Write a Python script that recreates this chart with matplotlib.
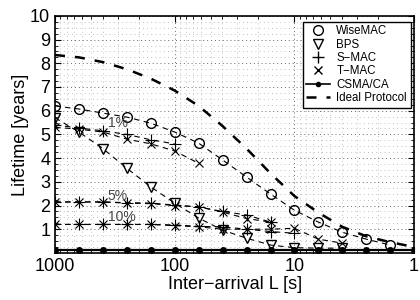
import matplotlib
matplotlib.use('Agg')
import matplotlib.pyplot as plt
from matplotlib.ticker import MultipleLocator, LogLocator, FixedLocator
from matplotlib.lines import Line2D

plt.rcParams['font.family'] = ['Liberation Sans', 'DejaVu Sans']

# inter-arrival times (x positions of the markers)
L = [1000, 631, 398, 251, 158, 100, 63.1, 39.8, 25.1, 15.8, 10, 6.31, 3.98, 2.51, 1.58, 1]

wisemac = [6.2, 6.07, 5.9, 5.73, 5.47, 5.1, 4.63, 3.92, 3.2, 2.48, 1.8, 1.3, 0.87, 0.58, 0.33]
bps = [5.7, 5.1, 4.4, 3.57, 2.78, 2.1, 1.47, 0.96, 0.62, 0.33, 0.22, 0.2, 0.2]
smac_1 = [5.4, 5.27, 5.15, 5.0, 4.77, 4.6]
tmac_1 = [5.3, 5.22, 5.1, 4.8, 4.6, 4.3, 3.78]
smac_5 = [2.15, 2.15, 2.15, 2.12, 2.1, 2.02, 1.93, 1.75, 1.6, 1.3]
tmac_5 = [2.15, 2.15, 2.15, 2.1, 2.08, 2.0, 1.95, 1.72, 1.45, 1.3]
smac_10 = [1.2, 1.2, 1.2, 1.2, 1.2, 1.18, 1.12, 1.1, 1.0, 0.9, 0.83]
tmac_10 = [1.2, 1.2, 1.2, 1.2, 1.2, 1.15, 1.1, 1.0, 1.0, 1.0, 1.04, 0.58, 0.41]
csma = [0.12] * 16
ideal = [8.35, 8.25, 8.05, 7.75, 7.35, 6.85, 6.2, 5.35, 4.4, 3.35, 2.4, 1.7, 1.1, 0.7, 0.45, 0.25]

fig = plt.figure(figsize=(4.2, 3.0), dpi=100)
ax = fig.add_axes([0.131, 0.157, 0.855, 0.79])

dash = (0, (5, 4))
mk = dict(color='k', lw=0.8, ls=dash, mfc='none', mec='k')
ax.plot(L[:len(wisemac)], wisemac, marker='o', ms=7, **mk)
ax.plot(L[:len(bps)], bps, marker='v', ms=7, **mk)
for s in (smac_1, smac_5, smac_10):
    ax.plot(L[:len(s)], s, marker='+', ms=8, mew=0.8, **mk)
for s in (tmac_1, tmac_5, tmac_10):
    ax.plot(L[:len(s)], s, marker='x', ms=6, mew=0.8, **mk)
ax.plot(L, csma, color='k', lw=1.6, marker='o', ms=4)
ax.plot(L, ideal, color='k', lw=1.8, ls=(0, (4, 4)))

for txt, x, y in [('1%', 298, 5.5), ('5%', 298, 2.4), ('10%', 277, 1.5)]:
    ax.text(x, y, txt, color='#444444', fontsize=10, ha='center', va='center')

ax.set_xscale('log')
ax.set_xlim(1000, 1)
ax.set_ylim(0, 10)
ax.xaxis.set_major_locator(FixedLocator([1000, 100, 10, 1]))
ax.set_xticklabels(['1000', '100', '10', '1'])
ax.xaxis.set_minor_locator(LogLocator(base=10, subs=range(2, 10)))
ax.yaxis.set_major_locator(FixedLocator(range(1, 11)))
ax.yaxis.set_minor_locator(MultipleLocator(0.25))
ax.tick_params(which='both', direction='in', top=True, right=True, labelsize=13)
ax.tick_params(which='major', length=4)
ax.tick_params(which='minor', length=2)
ax.grid(which='major', color='#666666', ls=(0, (1, 3)), lw=0.7)
ax.grid(which='minor', color='#aaaaaa', ls=(0, (1, 4)), lw=0.6)
for sp in ax.spines.values():
    sp.set_linewidth(1.2)

ax.set_xlabel('Inter\u2212arrival L [s]', fontsize=13, labelpad=1)
ax.set_ylabel('Lifetime [years]', fontsize=13, labelpad=1)

handles = [
    Line2D([], [], ls='none', marker='o', mfc='none', mec='k', color='k', ms=7),
    Line2D([], [], ls='none', marker='v', mfc='none', mec='k', color='k', ms=7),
    Line2D([], [], ls='none', marker='+', color='k', ms=8),
    Line2D([], [], ls='none', marker='x', color='k', ms=6),
    Line2D([], [], color='k', lw=1.2, marker='o', ms=3),
    Line2D([], [], color='k', lw=1.8, ls=(0, (4, 4))),
]
labels = ['WiseMAC', 'BPS', 'S\u2212MAC', 'T\u2212MAC', 'CSMA/CA', 'Ideal Protocol']
leg = ax.legend(handles, labels, loc='upper right', bbox_to_anchor=(0.99, 0.975),
                fontsize=8.3, fancybox=False, framealpha=1, edgecolor='k',
                borderpad=0.3, labelspacing=0.12, handlelength=2.0, handletextpad=0.6,
                borderaxespad=0)
leg.get_frame().set_linewidth(1.0)

plt.savefig('out.png', dpi=100)
